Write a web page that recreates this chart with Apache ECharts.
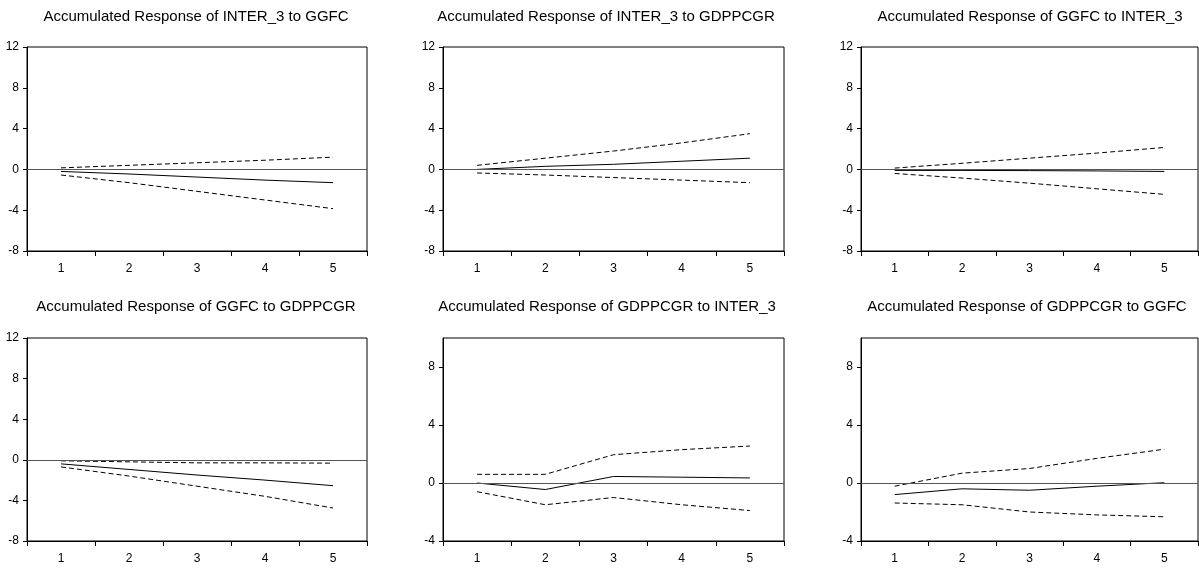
<!DOCTYPE html>
<html>
<head>
<meta charset="utf-8">
<title>Accumulated Response</title>
<script src="https://cdn.jsdelivr.net/npm/echarts@6/dist/echarts.min.js"></script>
<style>
    html, body { margin: 0; padding: 0; background: #fff; }
    #main { width: 1199px; height: 578px; }
</style>
</head>
<body>
<div id="main"></div>
<script>
    // 期数
    var periods = ['1', '2', '3', '4', '5'];

    // 标题
    var titles = [
        'Accumulated Response of INTER_3 to GGFC',
        'Accumulated Response of INTER_3 to GDPPCGR',
        'Accumulated Response of GGFC to INTER_3',
        'Accumulated Response of GGFC to GDPPCGR',
        'Accumulated Response of GDPPCGR to INTER_3',
        'Accumulated Response of GDPPCGR to GGFC'
    ];

    // 响应值 / 上下置信带
    var inter3_ggfc       = [-0.2, -0.45, -0.75, -1.05, -1.3];
    var inter3_ggfc_hi    = [0.15, 0.4, 0.65, 0.9, 1.2];
    var inter3_ggfc_lo    = [-0.55, -1.3, -2.15, -3.0, -3.85];

    var inter3_gdp        = [0.0, 0.3, 0.5, 0.8, 1.1];
    var inter3_gdp_hi     = [0.4, 1.1, 1.8, 2.6, 3.5];
    var inter3_gdp_lo     = [-0.35, -0.55, -0.8, -1.05, -1.3];

    var ggfc_inter3       = [-0.1, -0.1, -0.12, -0.15, -0.2];
    var ggfc_inter3_hi    = [0.13, 0.6, 1.1, 1.6, 2.15];
    var ggfc_inter3_lo    = [-0.4, -0.85, -1.35, -1.9, -2.45];

    var ggfc_gdp          = [-0.4, -0.95, -1.5, -2.0, -2.55];
    var ggfc_gdp_hi       = [-0.1, -0.2, -0.3, -0.3, -0.33];
    var ggfc_gdp_lo       = [-0.7, -1.6, -2.6, -3.6, -4.75];

    var gdp_inter3        = [0.0, -0.45, 0.45, 0.4, 0.35];
    var gdp_inter3_hi     = [0.6, 0.6, 1.95, 2.3, 2.55];
    var gdp_inter3_lo     = [-0.6, -1.5, -1.0, -1.5, -1.9];

    var gdp_ggfc          = [-0.8, -0.4, -0.5, -0.22, 0.02];
    var gdp_ggfc_hi       = [-0.22, 0.68, 1.0, 1.7, 2.33];
    var gdp_ggfc_lo       = [-1.38, -1.5, -2.0, -2.2, -2.33];

    // y轴刻度
    var yTicksTop = [-8, -4, 0, 4, 8, 12];
    var yTicksBottom = [-4, 0, 4, 8];

    var panels = [
        {mid: inter3_ggfc, hi: inter3_ggfc_hi, lo: inter3_ggfc_lo, min: -8, max: 12, ticks: yTicksTop},
        {mid: inter3_gdp, hi: inter3_gdp_hi, lo: inter3_gdp_lo, min: -8, max: 12, ticks: yTicksTop},
        {mid: ggfc_inter3, hi: ggfc_inter3_hi, lo: ggfc_inter3_lo, min: -8, max: 12, ticks: yTicksTop},
        {mid: ggfc_gdp, hi: ggfc_gdp_hi, lo: ggfc_gdp_lo, min: -8, max: 12, ticks: yTicksTop},
        {mid: gdp_inter3, hi: gdp_inter3_hi, lo: gdp_inter3_lo, min: -4, max: 10, ticks: yTicksBottom},
        {mid: gdp_ggfc, hi: gdp_ggfc_hi, lo: gdp_ggfc_lo, min: -4, max: 10, ticks: yTicksBottom}
    ];

    // 各子图位置
    var boxes = [
        {left: 27, top: 47, width: 340, height: 204, tx: 196, ty: 9},
        {left: 443, top: 47, width: 341, height: 204, tx: 606, ty: 9},
        {left: 861, top: 47, width: 337, height: 204, tx: 1030, ty: 9},
        {left: 27, top: 338, width: 340, height: 203, tx: 196, ty: 299},
        {left: 443, top: 338, width: 341, height: 203, tx: 607, ty: 299},
        {left: 861, top: 338, width: 337, height: 203, tx: 1027, ty: 299}
    ];

    var font = "'Liberation Sans', Arial, sans-serif";
    var option = {
        animation: false,
        backgroundColor: '#fff',
        title: [], grid: [], xAxis: [], yAxis: [], series: []
    };

    panels.forEach(function (p, i) {
        var b = boxes[i];
        option.title.push({
            text: titles[i],
            left: b.tx, top: b.ty, textAlign: 'center', padding: 0,
            textStyle: {fontFamily: font, fontSize: 15, fontWeight: 'normal', color: '#000'}
        });
        option.grid.push({
            left: b.left, top: b.top, width: b.width, height: b.height,
            show: true, borderColor: '#000', borderWidth: 1, backgroundColor: 'transparent'
        });
        option.xAxis.push({
            type: 'category', gridIndex: i, data: periods, boundaryGap: true,
            axisLine: {onZero: false, lineStyle: {color: '#000', width: 1}},
            axisTick: {show: true, length: 5, inside: false, lineStyle: {color: '#000'}},
            axisLabel: {color: '#000', fontFamily: font, fontSize: 12, margin: 12},
            splitLine: {show: false}
        });
        option.yAxis.push({
            type: 'value', gridIndex: i, min: p.min, max: p.max, interval: 4,
            axisLine: {show: true, onZero: false, lineStyle: {color: '#000', width: 1}},
            axisTick: {show: true, length: 4, lineStyle: {color: '#000'}, customValues: p.ticks},
            axisLabel: {color: '#000', fontFamily: font, fontSize: 12, margin: 8, customValues: p.ticks},
            splitLine: {show: false}
        });
        option.series.push({
            type: 'line', xAxisIndex: i, yAxisIndex: i, data: p.mid,
            symbol: 'none', silent: true,
            lineStyle: {color: '#000', width: 1, type: 'solid'},
            markLine: {
                silent: true, symbol: 'none', label: {show: false},
                lineStyle: {color: '#555', width: 1, type: 'solid'},
                data: [{yAxis: 0}]
            }
        });
        option.series.push({
            type: 'line', xAxisIndex: i, yAxisIndex: i, data: p.hi,
            symbol: 'none', silent: true,
            lineStyle: {color: '#000', width: 1, type: [5, 3]}
        });
        option.series.push({
            type: 'line', xAxisIndex: i, yAxisIndex: i, data: p.lo,
            symbol: 'none', silent: true,
            lineStyle: {color: '#000', width: 1, type: [5, 3]}
        });
    });

    var chart = echarts.init(document.getElementById('main'));
    chart.setOption(option, true);
    window.addEventListener('resize', function () {
        chart.resize();
    });
</script>
</body>
</html>
